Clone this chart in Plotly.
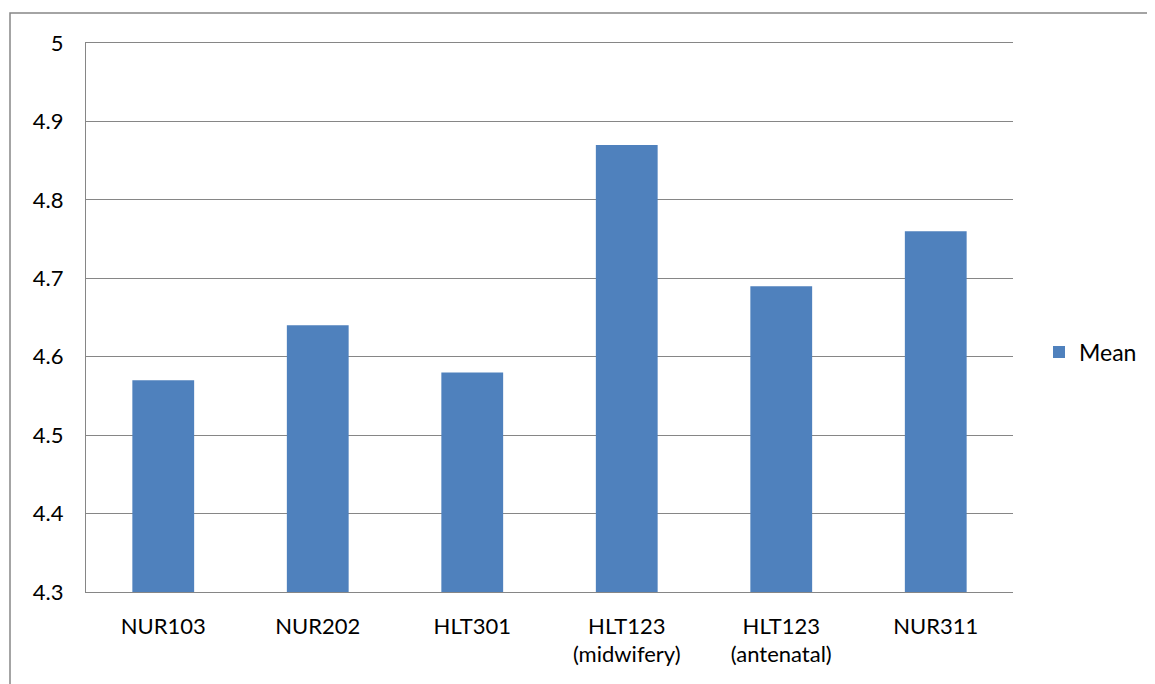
import plotly.graph_objects as go

categories = ["NUR103", "NUR202", "HLT301", "HLT123<br>(midwifery)", "HLT123<br>(antenatal)", "NUR311"]
mean_values = [4.57, 4.64, 4.58, 4.87, 4.69, 4.76]
y_ticks = [4.3, 4.4, 4.5, 4.6, 4.7, 4.8, 4.9, 5]
y_tick_labels = ["4.3", "4.4", "4.5", "4.6", "4.7", "4.8", "4.9", "5"]

OFF = 8  # default page body margin
W, H = 1155 - OFF, 684 - OFF
L, R, T, B = 86 - OFF, 1013 - OFF, 43 - OFF, 592 - OFF
pw, ph = R - L, B - T

fig = go.Figure()
fig.add_trace(go.Bar(x=categories, y=mean_values, name="Mean",
                     marker=dict(color="#4F81BD", line=dict(width=0))))

font = dict(family="Lato, Carlito, Calibri, sans-serif", size=22, color="#000000")

fig.update_layout(
    width=W, height=H,
    margin=dict(l=L, r=W - R, t=T, b=H - B, pad=0),
    paper_bgcolor="white", plot_bgcolor="white",
    bargap=0.6,
    font=font,
    showlegend=True,
    legend=dict(x=(1039 - OFF - L) / pw, y=(B - (352 - OFF)) / ph, xanchor="left", yanchor="middle",
                font=dict(family="Lato, Carlito, Calibri, sans-serif", size=23, color="#000000"),
                bgcolor="rgba(0,0,0,0)", itemwidth=30),
    xaxis=dict(showgrid=False, showline=True, mirror=True, linecolor="#868686", linewidth=1.3,
               ticks="outside", ticklen=14,
               tickcolor="rgba(0,0,0,0)", tickfont=font, zeroline=False),
    yaxis=dict(range=[4.3, 5], tickvals=y_ticks, ticktext=y_tick_labels,
               showgrid=True, gridcolor="#868686", gridwidth=1.3,
               showline=True, linecolor="#868686", linewidth=1.3,
               ticks="outside", ticklen=17, tickcolor="rgba(0,0,0,0)",
               tickfont=font, zeroline=False),
)

# outer chart border (top and left edges; right and bottom fall outside the view)
bx0 = (10 - OFF - L) / pw
bx1 = (W + 40 - L) / pw
by0 = (B - (H + 40)) / ph
by1 = (B - (13 - OFF)) / ph
fig.add_shape(type="path", xref="paper", yref="paper",
              path=f"M {bx1} {by1} L {bx0} {by1} L {bx0} {by0}",
              line=dict(color="#868686", width=1.5), layer="below")

fig.write_html("out.html")
